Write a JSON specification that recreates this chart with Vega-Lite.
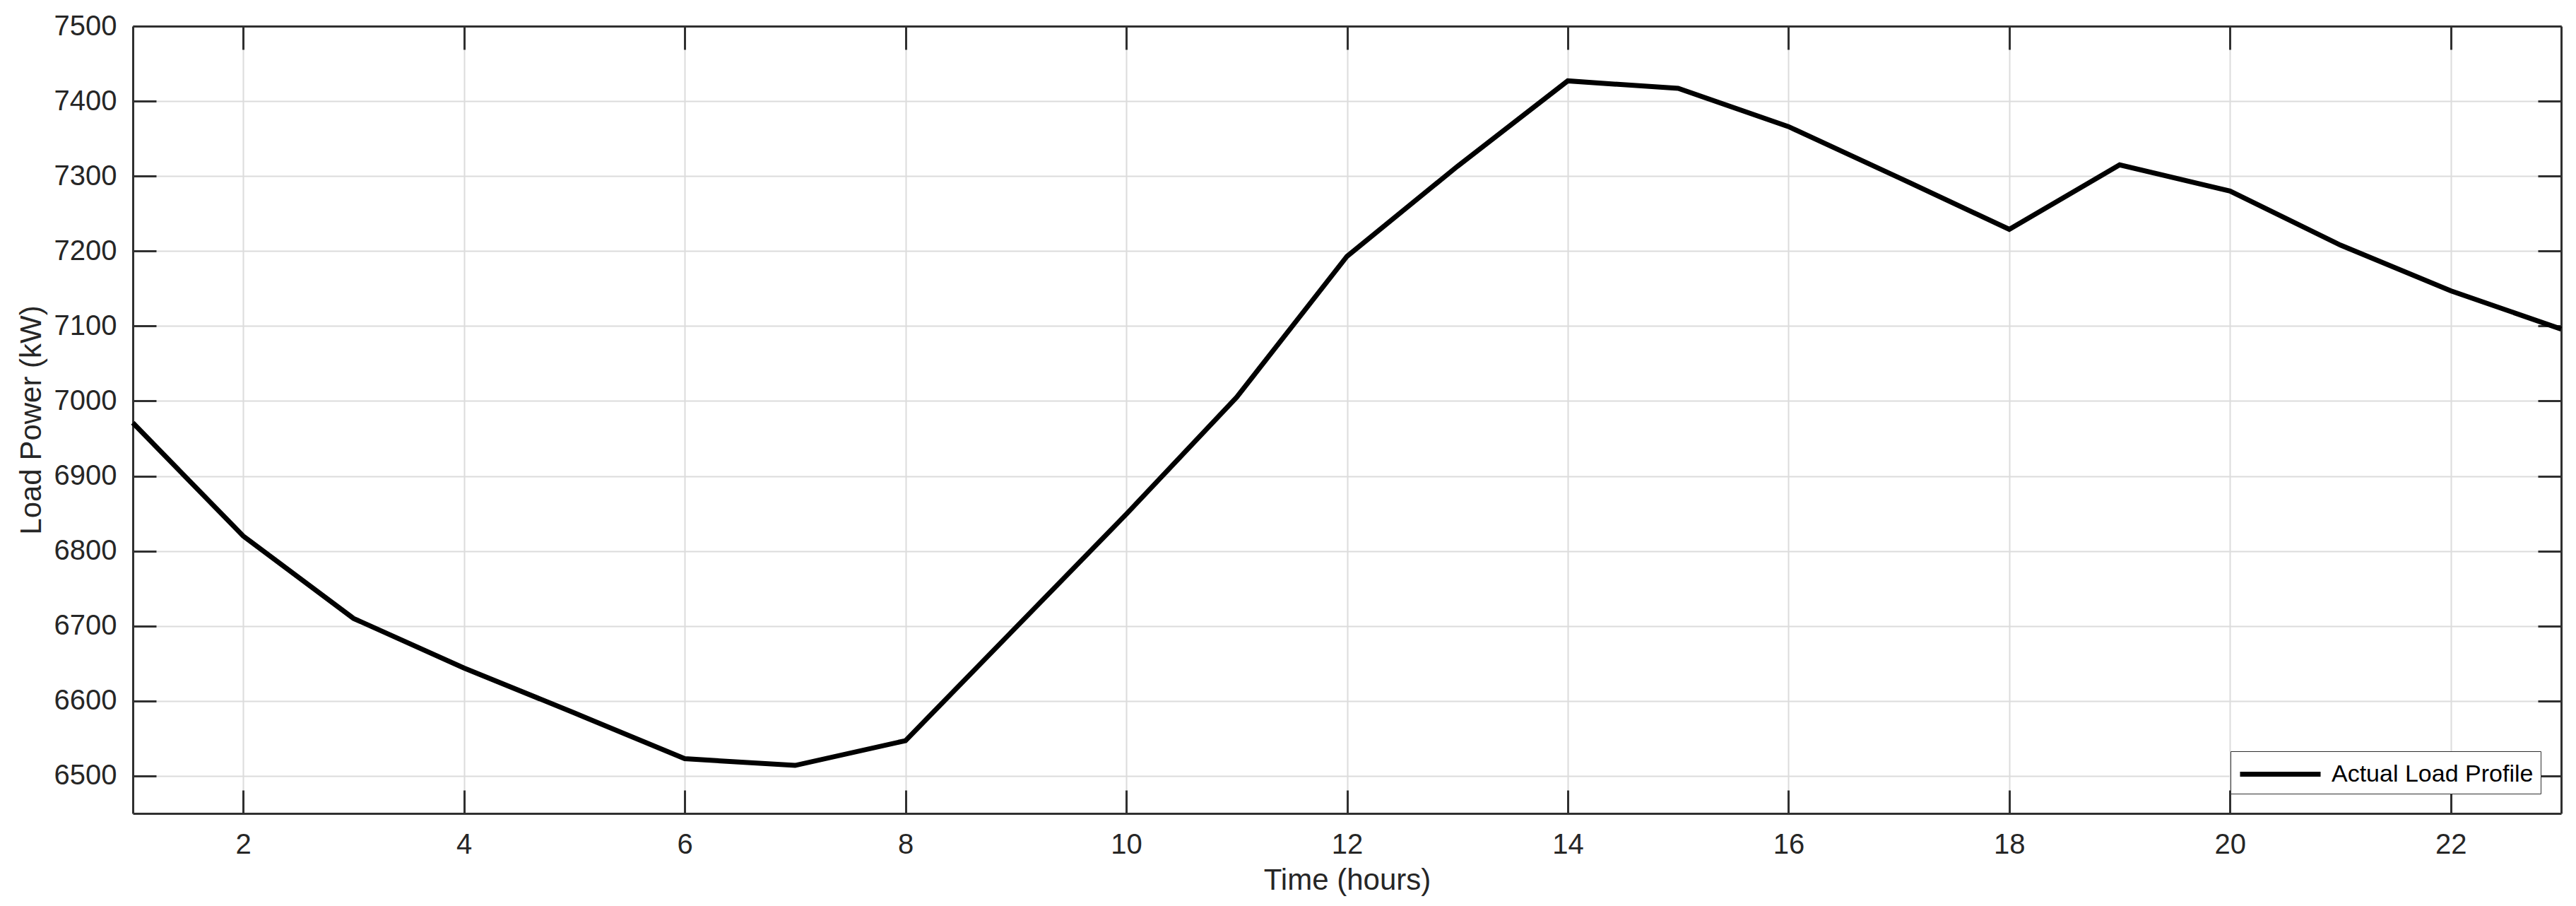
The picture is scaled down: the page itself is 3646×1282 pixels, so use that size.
{
  "$schema": "https://vega.github.io/schema/vega-lite/v6.json",
  "autosize": {"type": "none"},
  "width": 3437,
  "height": 1114,
  "padding": {"left": 188, "top": 37, "right": 21, "bottom": 131},
  "background": "white",
  "config": {
    "font": "Liberation Sans",
    "view": {"stroke": null}
  },
  "data": {
    "values": [
      {"t": 1, "load": 6971, "series": "Actual Load Profile"},
      {"t": 2, "load": 6820, "series": "Actual Load Profile"},
      {"t": 3, "load": 6710, "series": "Actual Load Profile"},
      {"t": 4, "load": 6644, "series": "Actual Load Profile"},
      {"t": 5, "load": 6584, "series": "Actual Load Profile"},
      {"t": 6, "load": 6523, "series": "Actual Load Profile"},
      {"t": 7, "load": 6514, "series": "Actual Load Profile"},
      {"t": 8, "load": 6547, "series": "Actual Load Profile"},
      {"t": 9, "load": 6698, "series": "Actual Load Profile"},
      {"t": 10, "load": 6849, "series": "Actual Load Profile"},
      {"t": 11, "load": 7005, "series": "Actual Load Profile"},
      {"t": 12, "load": 7193, "series": "Actual Load Profile"},
      {"t": 13, "load": 7313, "series": "Actual Load Profile"},
      {"t": 14, "load": 7427, "series": "Actual Load Profile"},
      {"t": 15, "load": 7417, "series": "Actual Load Profile"},
      {"t": 16, "load": 7366, "series": "Actual Load Profile"},
      {"t": 17, "load": 7298, "series": "Actual Load Profile"},
      {"t": 18, "load": 7229, "series": "Actual Load Profile"},
      {"t": 19, "load": 7315, "series": "Actual Load Profile"},
      {"t": 20, "load": 7280, "series": "Actual Load Profile"},
      {"t": 21, "load": 7208, "series": "Actual Load Profile"},
      {"t": 22, "load": 7147, "series": "Actual Load Profile"},
      {"t": 23, "load": 7096, "series": "Actual Load Profile"}
    ]
  },
  "layer": [
    {
      "mark": {"type": "line", "opacity": 0},
      "encoding": {
        "x": {
          "field": "t", "type": "quantitative",
          "scale": {"domain": [1, 23], "nice": false, "zero": false},
          "axis": {
            "orient": "top", "labels": false, "title": null, "grid": false,
            "values": [2, 4, 6, 8, 10, 12, 14, 16, 18, 20, 22],
            "tickSize": -33, "tickWidth": 3, "tickColor": "#303030",
            "domainColor": "#303030", "domainWidth": 3
          }
        },
        "y": {
          "field": "load", "type": "quantitative",
          "scale": {"domain": [6450, 7500], "nice": false, "zero": false},
          "axis": {
            "orient": "right", "labels": false, "title": null, "grid": false,
            "values": [6500, 6600, 6700, 6800, 6900, 7000, 7100, 7200, 7300, 7400, 7500],
            "tickSize": -33, "tickWidth": 3, "tickColor": "#303030",
            "domainColor": "#303030", "domainWidth": 3
          }
        }
      }
    },
    {
      "mark": {"type": "line", "strokeWidth": 7, "strokeJoin": "miter"},
      "encoding": {
        "x": {
          "field": "t", "type": "quantitative",
          "scale": {"domain": [1, 23], "nice": false, "zero": false},
          "axis": {
            "orient": "bottom", "title": "Time (hours)",
            "values": [2, 4, 6, 8, 10, 12, 14, 16, 18, 20, 22],
            "grid": true, "gridColor": "#dcdcdc", "gridWidth": 2,
            "tickSize": -33, "tickWidth": 3, "tickColor": "#303030",
            "domainColor": "#303030", "domainWidth": 3,
            "labelFontSize": 40, "labelColor": "#262626", "labelPadding": 57,
            "titleFontSize": 42, "titleFontWeight": "normal", "titleColor": "#262626", "titlePadding": 10
          }
        },
        "y": {
          "field": "load", "type": "quantitative",
          "scale": {"domain": [6450, 7500], "nice": false, "zero": false},
          "axis": {
            "orient": "left", "title": "Load Power (kW)",
            "values": [6500, 6600, 6700, 6800, 6900, 7000, 7100, 7200, 7300, 7400, 7500],
            "format": "d",
            "grid": true, "gridColor": "#dcdcdc", "gridWidth": 2,
            "tickSize": -33, "tickWidth": 3, "tickColor": "#303030",
            "domainColor": "#303030", "domainWidth": 3,
            "labelFontSize": 40, "labelColor": "#262626", "labelPadding": 56,
            "titleFontSize": 42, "titleFontWeight": "normal", "titleColor": "#262626", "titlePadding": 10
          }
        },
        "color": {
          "field": "series", "type": "nominal",
          "scale": {"domain": ["Actual Load Profile"], "range": ["#000000"]},
          "legend": {
            "orient": "none", "legendX": 2969, "legendY": 1026,
            "title": null,
            "symbolType": "M-3,0H3", "symbolSize": 1444, "symbolStrokeWidth": 7,
            "symbolOffset": 38, "labelOffset": 50,
            "labelFontSize": 34, "labelColor": "#000000", "labelLimit": 0,
            "strokeColor": "#303030", "fillColor": "white", "padding": 10
          }
        }
      }
    }
  ],
  "resolve": {"axis": {"x": "independent", "y": "independent"}}
}
